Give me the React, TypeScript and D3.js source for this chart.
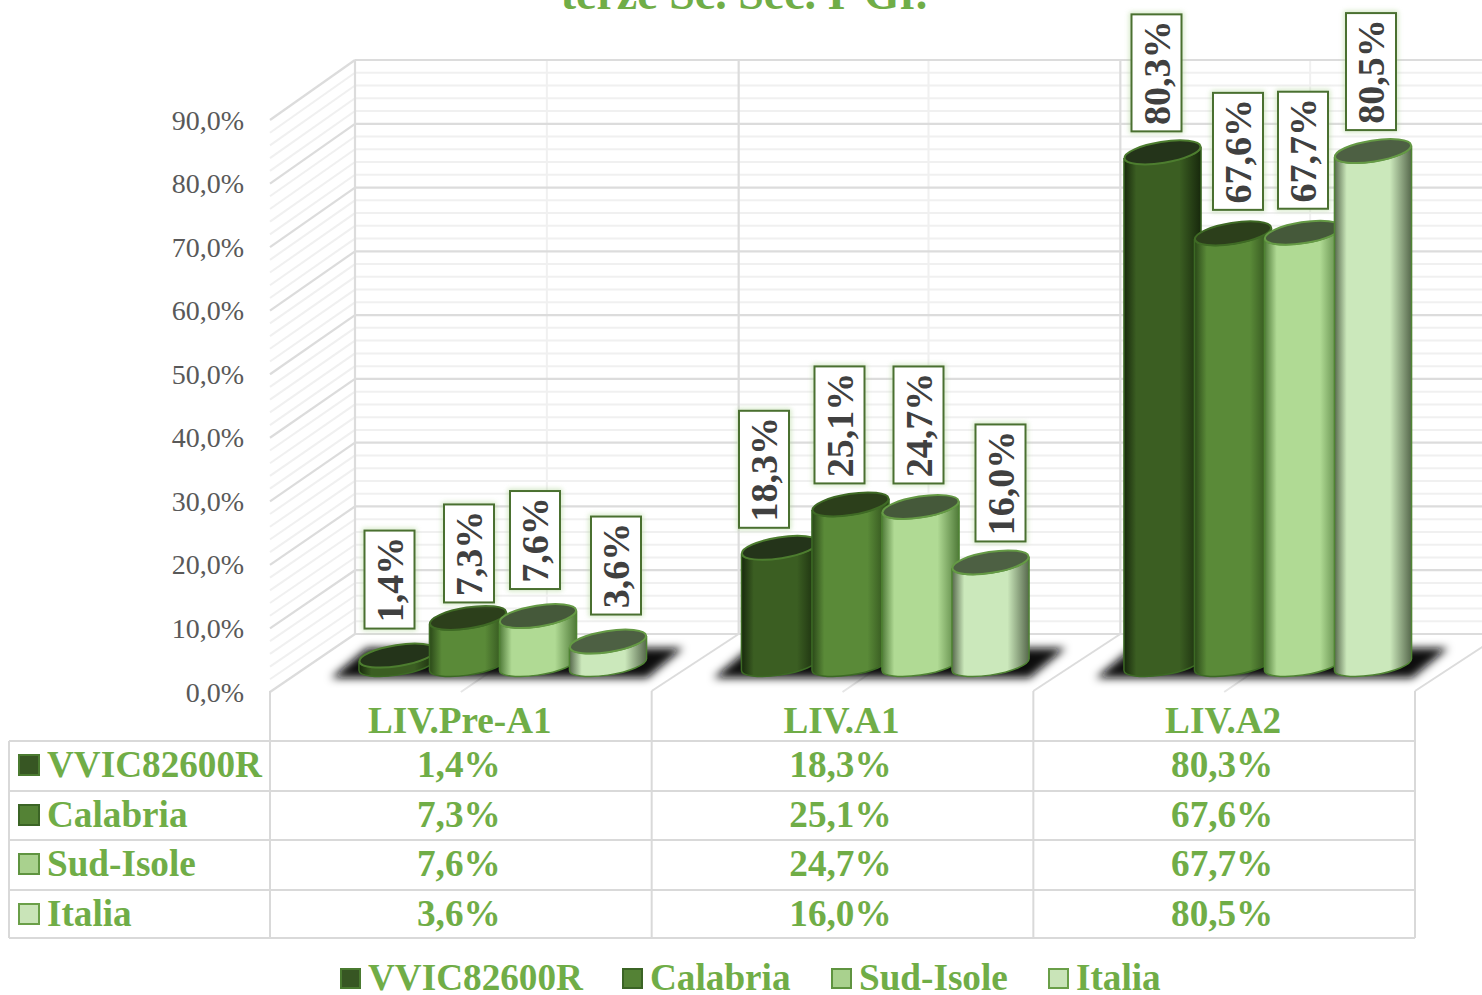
import React from "react";
import * as d3 from "d3";

const categories = ["LIV.Pre-A1", "LIV.A1", "LIV.A2"];
const seriesNames = ["VVIC82600R", "Calabria", "Sud-Isole", "Italia"];
const vvic = [1.4, 18.3, 80.3];
const calabria = [7.3, 25.1, 67.6];
const sudIsole = [7.6, 24.7, 67.7];
const italia = [3.6, 16.0, 80.5];
const seriesValues = [vvic, calabria, sudIsole, italia];
const yTicks = [0, 10, 20, 30, 40, 50, 60, 70, 80, 90];
const titleText = "terze Sc. Sec. I°Gr.";

// styling, by series
const bodyEdge = ["#17280c", "#2a4818", "#4f7a38", "#56684c"];
const bodyMid = ["#3b5e22", "#5a8a38", "#b0da94", "#cbe8bb"];
const topFill = ["#24341a", "#2c3f1b", "#45593a", "#4d6043"];
const rimStroke = ["#4d7d2f", "#3f6a25", "#659a45", "#659a45"];
const swatchFill = ["#375623", "#548235", "#A9D18E", "#C9E4B8"];
const swatchStroke = ["#4a7a30", "#3b6425", "#5f9440", "#6a9f48"];
const GREEN = "#70AD47";
const SERIF = "'Liberation Serif', serif";

// layout
const W = 1482;
const H = 995;
const DX = 85;
const RX = 39;
const RY = 10.5;
const TILT = -9;
const FRONT_Y = 691;
const tableRows = [741, 791, 840, 890, 938];
const seriesOffset = [-105.5, -35, 35, 105];
const labelDx = [
  [-8, 1, -3, 8],
  [-16, -11, -2, 10],
  [-6, 5, 0, -2],
];
const labelGap = [
  [27, 15.5, 27, 27],
  [20, 21, 23.5, 21],
  [21, 23.5, 24, 21],
];

const x = d3.scaleBand<string>().domain(categories).range([270, 1415]);
const xLinear = d3.scaleLinear().domain([0, 3]).range([270, 1415]);
const groupCenter = d3.scalePoint<string>().domain(categories).range([503, 1268]);
const backY = d3.scaleLinear().domain([0, 90]).range([634, 60]);
const frontY = d3.scaleLinear().domain([0, 90]).range([692, 120]);
const floorY = 664.5;
const barH = (v: number) => backY(0) - backY(v);
const fmt = (v: number) => v.toFixed(1).replace(".", ",") + "%";

const minorValues = d3.range(0, 90.01, 2).filter((v) => v % 10 !== 0);

function extremes(cx: number, cy: number) {
  const th = (TILT * Math.PI) / 180;
  const t = Math.atan2(-RY * Math.sin(th), RX * Math.cos(th));
  const px = RX * Math.cos(t) * Math.cos(th) - RY * Math.sin(t) * Math.sin(th);
  const py = RX * Math.cos(t) * Math.sin(th) + RY * Math.sin(t) * Math.cos(th);
  return { lx: cx - px, ly: cy - py, rx: cx + px, ry: cy + py };
}

function Cylinder({ cx, v, s }: { cx: number; v: number; s: number }) {
  const topY = floorY - barH(v);
  const t = extremes(cx, topY);
  const b = extremes(cx, floorY);
  const body = `M${t.lx},${t.ly} L${b.lx},${b.ly} A${RX},${RY} ${TILT} 0 0 ${b.rx},${b.ry} L${t.rx},${t.ry} A${RX},${RY} ${TILT} 0 1 ${t.lx},${t.ly} Z`;
  return (
    <g>
      <path d={body} fill={`url(#cyl${s})`} stroke={s < 2 ? "#3c6a24" : "#4f8433"} strokeWidth={1.5} />
      <ellipse
        cx={cx}
        cy={topY}
        rx={RX - 0.5}
        ry={RY}
        transform={`rotate(${TILT} ${cx} ${topY})`}
        fill={topFill[s]}
        stroke={rimStroke[s]}
        strokeWidth={2}
      />
    </g>
  );
}

export default function App() {
  return (
    <svg
      width={W}
      height={H}
      viewBox={`0 0 ${W} ${H}`}
      style={{ position: "absolute", left: 0, top: 0, background: "#fff", display: "block" }}
      fontFamily={SERIF}
    >
      <defs>
        {bodyMid.map((m, i) => (
          <linearGradient id={`cyl${i}`} key={i} x1="0" x2="1" y1="0" y2="0">
            <stop offset="0" stopColor={bodyEdge[i]} />
            <stop offset="0.16" stopColor={m} />
            <stop offset="0.72" stopColor={m} />
            <stop offset="1" stopColor={bodyEdge[i]} />
          </linearGradient>
        ))}
        <filter id="soft" x="-20%" y="-60%" width="140%" height="220%">
          <feGaussianBlur stdDeviation="4.5" />
        </filter>
        <filter id="glow" x="-30%" y="-30%" width="160%" height="160%">
          <feGaussianBlur stdDeviation="2.5" />
        </filter>
      </defs>

      <text x={744} y={9} textAnchor="middle" fontSize={46} fontWeight="bold" fill={GREEN}>
        {titleText}
      </text>

      {/* back wall */}
      {minorValues.map((v) => (
        <g key={v} stroke="#f0f0f0" strokeWidth={2}>
          <line x1={355} x2={W} y1={backY(v)} y2={backY(v)} />
          <line x1={355} x2={270} y1={backY(v)} y2={frontY(v)} />
        </g>
      ))}
      {categories.map((c) => (
        <line
          key={c}
          x1={x(c)! + x.bandwidth() / 2 + DX + 1}
          x2={x(c)! + x.bandwidth() / 2 + DX + 1}
          y1={60}
          y2={634}
          stroke="#f0f0f0"
          strokeWidth={2}
        />
      ))}
      {yTicks.map((v) => (
        <g key={v} stroke="#dcdcdc" strokeWidth={2.2}>
          <line x1={355} x2={W} y1={backY(v)} y2={backY(v)} />
          <line x1={355} x2={270} y1={backY(v)} y2={frontY(v)} />
        </g>
      ))}
      {d3.range(0, 3).map((i) => (
        <line
          key={i}
          x1={xLinear(i) + DX + (i ? 2 : 0)}
          x2={xLinear(i) + DX + (i ? 2 : 0)}
          y1={60}
          y2={634}
          stroke="#dcdcdc"
          strokeWidth={2.2}
        />
      ))}
      {/* floor lines */}
      {d3.range(1, 4).map((i) => (
        <line key={i} x1={xLinear(i)} x2={xLinear(i) + DX + 2} y1={FRONT_Y} y2={634} stroke="#dcdcdc" strokeWidth={2} />
      ))}
      {categories.map((c) => {
        const mid = x(c)! + x.bandwidth() / 2;
        return <line key={c} x1={mid} x2={mid + DX} y1={FRONT_Y + 1} y2={634} stroke="#e6e6e6" strokeWidth={2} />;
      })}

      {/* y tick labels */}
      {yTicks.map((v) => (
        <text key={v} x={244} y={frontY(v) + 9.5} textAnchor="end" fontSize={28} fill="#595959">
          {fmt(v)}
        </text>
      ))}

      {/* floor shadows */}
      {categories.map((c) => {
        const cx = groupCenter(c)!;
        return (
          <polygon
            key={c}
            filter="url(#soft)"
            fill="#08080c"
            points={[
              [cx - 172, 678],
              [cx + 144, 678],
              [cx + 180, 648],
              [cx - 136, 648],
            ]
              .map((p) => p.join(","))
              .join(" ")}
          />
        );
      })}

      {/* cylinders */}
      {categories.map((c, g) => (
        <g key={c}>
          {seriesValues.map((vals, s) => (
            <Cylinder key={s} cx={groupCenter(c)! + seriesOffset[s]} v={vals[g]} s={s} />
          ))}
        </g>
      ))}

      {/* table */}
      <g stroke="#d9d9d9" strokeWidth={2} fill="none">
        {tableRows.map((y) => (
          <line key={y} x1={9} x2={1415} y1={y} y2={y} />
        ))}
        <line x1={9} x2={9} y1={741} y2={938} />
        {d3.range(0, 4).map((i) => (
          <line key={i} x1={xLinear(i)} x2={xLinear(i)} y1={FRONT_Y} y2={938} />
        ))}
      </g>
      {categories.map((c) => (
        <text
          key={c}
          x={x(c)! + x.bandwidth() / 2 - 1}
          y={733}
          textAnchor="middle"
          fontSize={37.2}
          fontWeight="bold"
          fill={GREEN}
        >
          {c}
        </text>
      ))}
      {seriesNames.map((n, s) => {
        const y0 = tableRows[s];
        return (
          <g key={n}>
            <rect x={19} y={y0 + 14} width={20} height={20} fill={swatchFill[s]} stroke={swatchStroke[s]} strokeWidth={2} />
            <text x={47} y={y0 + 35.5} fontSize={37.2} fontWeight="bold" fill={GREEN}>
              {n}
            </text>
            {categories.map((c, g) => (
              <text
                key={c}
                x={x(c)! + x.bandwidth() / 2 - 2}
                y={y0 + 35.5}
                textAnchor="middle"
                fontSize={37.2}
                fontWeight="bold"
                fill={GREEN}
              >
                {fmt(seriesValues[s][g])}
              </text>
            ))}
          </g>
        );
      })}

      {/* data labels */}
      {categories.map((c, g) =>
        seriesValues.map((vals, s) => {
          const v = vals[g];
          const cx = groupCenter(c)! + seriesOffset[s] + labelDx[g][s];
          const bottom = floorY - barH(v) - labelGap[g][s];
          const h = fmt(v).length === 4 ? 98 : 117;
          return (
            <g key={`${g}-${s}`}>
              <rect x={cx - 25} y={bottom - h} width={50} height={h} fill="none" stroke="#a9d18e" strokeWidth={4} opacity={0.6} filter="url(#glow)" />
              <rect x={cx - 25} y={bottom - h} width={50} height={h} fill="#fff" stroke="#4a7030" strokeWidth={2} />
              <text
                transform={`translate(${cx + 13},${bottom - h / 2}) rotate(-90)`}
                textAnchor="middle"
                fontSize={38}
                fontWeight="bold"
                fill="#404040"
              >
                {fmt(v)}
              </text>
            </g>
          );
        })
      )}

      {/* legend */}
      {seriesNames.map((n, s) => {
        const sx = [340, 622, 831, 1048][s];
        return (
          <g key={n}>
            <rect x={sx + 1} y={969} width={19} height={19} fill={swatchFill[s]} stroke={swatchStroke[s]} strokeWidth={2} />
            <text x={sx + 28} y={990} fontSize={37.2} fontWeight="bold" fill={GREEN}>
              {n}
            </text>
          </g>
        );
      })}
    </svg>
  );
}
